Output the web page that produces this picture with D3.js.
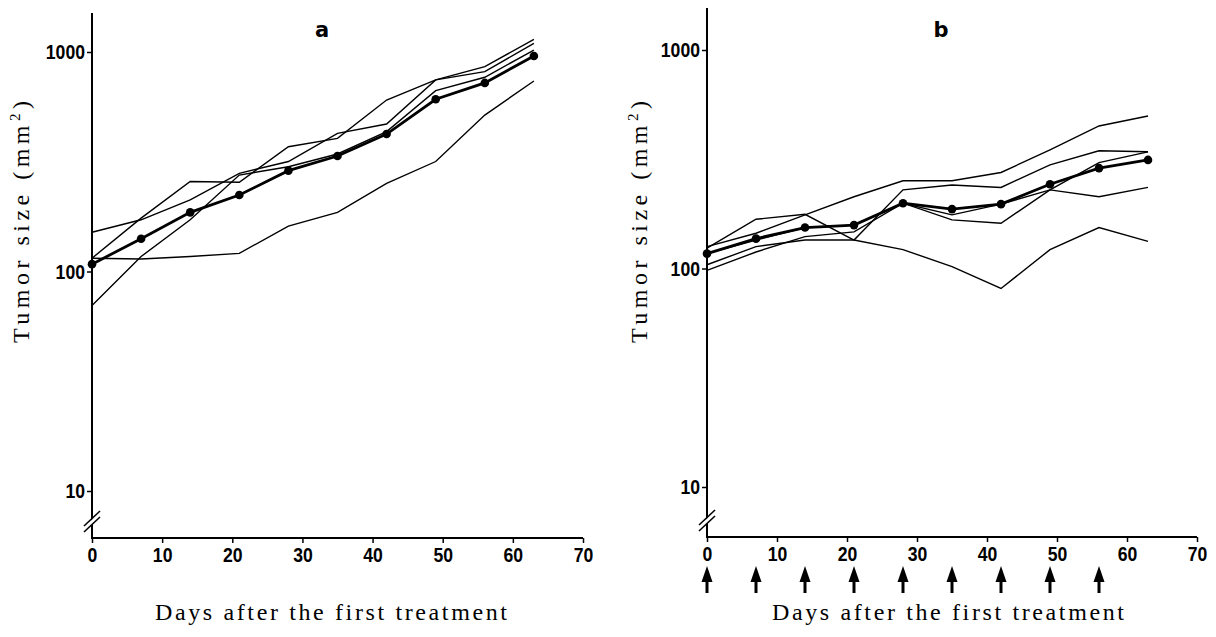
<!DOCTYPE html>
<html>
<head>
<meta charset="utf-8">
<script src="https://cdn.jsdelivr.net/npm/d3@7"></script>
<style>
  body { margin: 0; background: #fff; }
  svg { display: block; }
</style>
</head>
<body>
<div id="chart"></div>
<script>
// days of measurement (x values shared by every series)
const days = [0, 7, 14, 21, 28, 35, 42, 49, 56, 63];

// panel a: individual tumors and the mean (thick line with dots)
const aTumor1 = [151, 172, 212, 280, 317, 426, 470, 746, 814, 1095];
const aTumor2 = [115, 175, 257, 255, 370, 404, 604, 746, 858, 1142];
const aTumor3 = [70, 117, 172, 275, 300, 343, 434, 667, 767, 1021];
const aTumor4 = [115, 114, 117, 121, 161, 186, 252, 317, 516, 738];
const aMean = [108, 141, 186, 223, 288, 336, 423, 609, 723, 959];

// panel b
const bTumor1 = [126, 145, 176, 213, 252, 252, 275, 349, 449, 499];
const bTumor2 = [124, 168, 177, 135, 229, 241, 235, 298, 346, 342];
const bTumor3 = [104, 126, 135, 135, 122, 102, 81, 122, 154, 133];
const bTumor4 = [98, 119, 140, 147, 199, 176, 197, 229, 213, 235];
const bTumor5 = [117, 135, 154, 158, 199, 167, 161, 229, 305, 342];
const bMean = [117, 137, 154, 158, 199, 187, 197, 243, 288, 314];

// treatment days (arrows under panel b)
const treatmentDays = [0, 7, 14, 21, 28, 35, 42, 49, 56];

const xTicks = [0, 10, 20, 30, 40, 50, 60, 70];
const yTicks = [10, 100, 1000];
const xLabel = "Days after the first treatment";

const W = 1216, H = 637;
const svg = d3.select("#chart").append("svg")
    .attr("width", W)
    .attr("height", H);

const tickFont = "'Liberation Sans', Arial, sans-serif";
const labelFont = "'Liberation Serif', 'DejaVu Serif', serif";

// squeeze bold digits so they look condensed like the original
function styleTicks(sel) {
    sel.selectAll(".tick text")
        .attr("font-family", tickFont)
        .attr("font-weight", "bold")
        .attr("font-size", 21)
        .attr("fill", "#000")
        .attr("textLength", function () { return this.textContent.length * 9.8; })
        .attr("lengthAdjust", "spacingAndGlyphs");
}

function drawPanel(cfg) {
    const g = svg.append("g");

    const x = d3.scaleLinear().domain([0, 70]).range([cfg.x0, cfg.x70]);
    const y = d3.scaleLog().domain([10, 1000]).range([cfg.y10, cfg.y1000]);

    // x axis
    const xAxis = g.append("g")
        .attr("transform", `translate(0,${cfg.axisY})`)
        .call(d3.axisBottom(x).tickValues(xTicks).tickSize(5).tickSizeOuter(0).tickPadding(4));
    xAxis.select(".domain").remove();
    xAxis.selectAll(".tick line").attr("stroke", "#000").attr("stroke-width", 1.5);
    styleTicks(xAxis);

    // y axis
    const yAxis = g.append("g")
        .attr("transform", `translate(${cfg.x0},0)`)
        .call(d3.axisLeft(y).tickValues(yTicks).tickFormat(d3.format("d")).tickSize(5).tickSizeOuter(0).tickPadding(2));
    yAxis.select(".domain").remove();
    yAxis.selectAll(".tick line").attr("stroke", "#000").attr("stroke-width", 1.5);
    styleTicks(yAxis);

    // axis lines
    g.append("line")
        .attr("x1", cfg.x0).attr("x2", cfg.x0)
        .attr("y1", cfg.axisTop).attr("y2", cfg.axisY)
        .attr("stroke", "#000").attr("stroke-width", 2);
    g.append("line")
        .attr("x1", cfg.x0 - 1).attr("x2", x(70))
        .attr("y1", cfg.axisY).attr("y2", cfg.axisY)
        .attr("stroke", "#000").attr("stroke-width", 2.2);

    // axis break (//)
    const bx = cfg.x0, by = cfg.axisY - 17;
    g.append("polygon")
        .attr("points", `${bx - 8},${by + 6} ${bx + 8},${by - 9} ${bx + 8},${by - 4} ${bx - 8},${by + 11}`)
        .attr("fill", "#fff");
    [0, 6].forEach(function (o) {
        g.append("line")
            .attr("x1", bx - 8).attr("y1", by + 5 + o)
            .attr("x2", bx + 8).attr("y2", by - 10 + o)
            .attr("stroke", "#000").attr("stroke-width", 1.6);
    });

    const line = d3.line()
        .x(function (d, i) { return x(days[i]); })
        .y(function (d) { return y(d); });

    // individual tumors
    cfg.tumors.forEach(function (s) {
        g.append("path")
            .datum(s)
            .attr("fill", "none")
            .attr("stroke", "#000")
            .attr("stroke-width", 1.4)
            .attr("d", line);
    });

    // mean
    g.append("path")
        .datum(cfg.mean)
        .attr("fill", "none")
        .attr("stroke", "#000")
        .attr("stroke-width", 2.8)
        .attr("d", line);
    g.selectAll("circle.mean")
        .data(cfg.mean)
        .enter().append("circle")
        .attr("class", "mean")
        .attr("cx", function (d, i) { return x(days[i]); })
        .attr("cy", function (d) { return y(d); })
        .attr("r", 4.3)
        .attr("fill", "#000");

    // panel letter
    g.append("text")
        .attr("x", cfg.letterX).attr("y", 37)
        .attr("text-anchor", "middle")
        .attr("font-family", "'DejaVu Sans', sans-serif")
        .attr("font-weight", "bold")
        .attr("font-size", 21)
        .text(cfg.letter);

    // y label
    const yl = g.append("text")
        .attr("transform", `translate(${cfg.yLabelX},${cfg.yLabelY}) rotate(-90)`)
        .attr("text-anchor", "middle")
        .attr("font-family", labelFont)
        .attr("font-size", 24)
        .attr("textLength", 242)
        .attr("lengthAdjust", "spacing");
    yl.append("tspan").text("Tumor size (mm");
    yl.append("tspan").attr("dy", -9).attr("font-size", 15).text("2");
    yl.append("tspan").attr("dy", 9).text(")");

    // x label
    g.append("text")
        .attr("x", cfg.xLabelX).attr("y", 620)
        .attr("text-anchor", "middle")
        .attr("font-family", labelFont)
        .attr("font-size", 24)
        .attr("textLength", 352)
        .attr("lengthAdjust", "spacing")
        .text(xLabel);

    // treatment arrows
    if (cfg.arrows) {
        cfg.arrows.forEach(function (d) {
            const ax = x(d);
            g.append("line")
                .attr("x1", ax).attr("x2", ax)
                .attr("y1", 578).attr("y2", 593)
                .attr("stroke", "#000").attr("stroke-width", 3);
            g.append("path")
                .attr("d", `M${ax},566 L${ax + 5.5},582 L${ax - 5.5},582 Z`)
                .attr("fill", "#000");
        });
    }
}

drawPanel({
    x0: 92, x70: 583, y10: 491, y1000: 52, axisY: 538, axisTop: 13,
    tumors: [aTumor1, aTumor2, aTumor3, aTumor4], mean: aMean,
    letter: "a", letterX: 322, yLabelX: 29, yLabelY: 222, xLabelX: 331
});

drawPanel({
    x0: 707, x70: 1197, y10: 487, y1000: 50, axisY: 537, axisTop: 8,
    tumors: [bTumor1, bTumor2, bTumor3, bTumor4, bTumor5], mean: bMean,
    letter: "b", letterX: 941, yLabelX: 647, yLabelY: 222, xLabelX: 948,
    arrows: treatmentDays
});
</script>
</body>
</html>
